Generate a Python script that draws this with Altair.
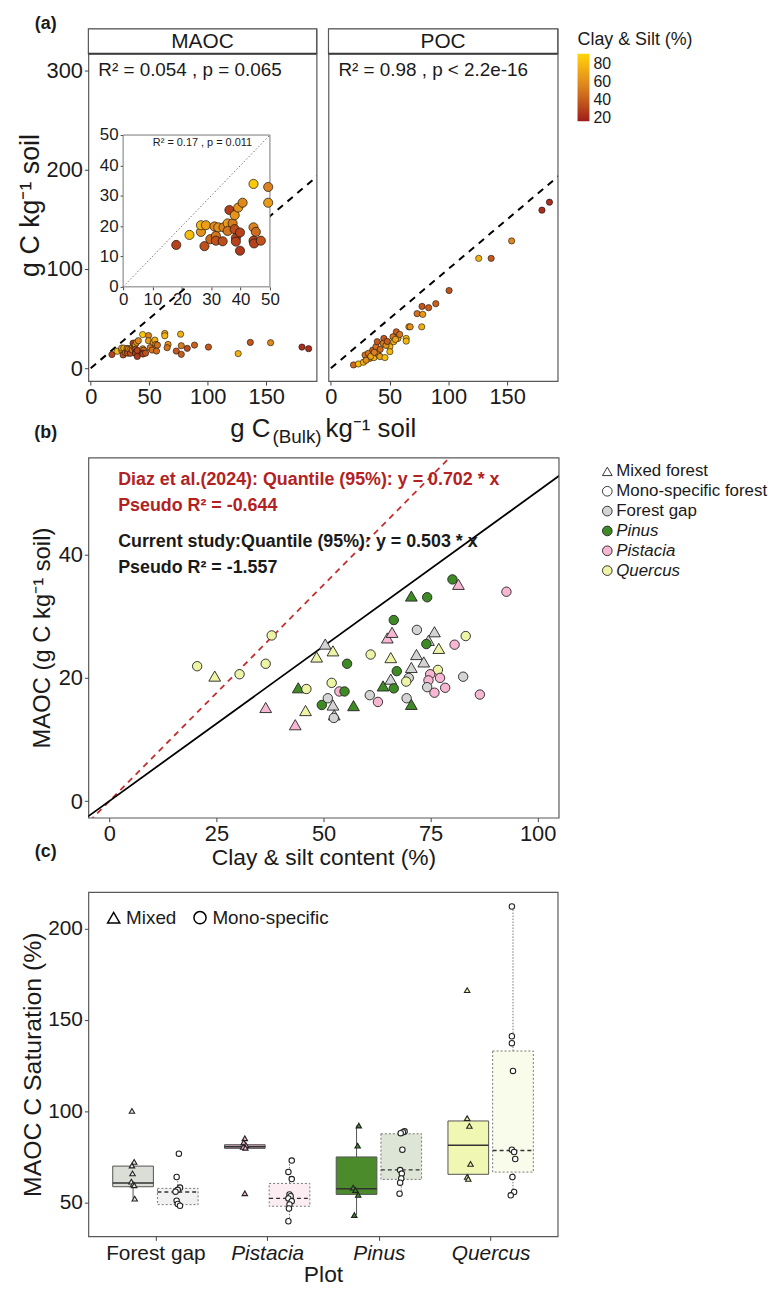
import json
import altair as alt
import pandas as pd

FONT = "Liberation Sans"
INK = "#1a1a1a"
FRAME = "#595959"

# ======================= Panel (a) data =======================
MAOC_BULK = [18.1, 22.6, 26.5, 26.5, 28.2, 27.7, 29.7, 31.1, 31.6, 31.6, 32.4, 33.9, 34.2,
             35.6, 35.6, 36.2, 37.3, 38.0, 38.0, 38.4, 38.4, 39.2, 39.8, 40.7, 39.8, 44.4,
             44.4, 45.2, 44.4, 44.6, 46.9, 49.4, 49.4,
             50.8, 52.5, 53.4, 54.8, 55.7, 56.2, 57.0, 63.3, 63.3, 66.1, 65.3, 73.1, 76.8,
             77.4, 77.4, 82.5, 88.7, 100.6, 126.0, 136.4, 153.7, 180.5, 186.2]
MAOC_C = [13.8, 17.1, 18.1, 20.3, 20.3, 13.4, 15.7, 19.9, 16.8, 15.2, 19.6, 15.0, 19.6,
          20.9, 18.4, 25.3, 20.9, 23.6, 19.0, 16.1, 14.9, 26.1, 17.9, 27.7, 11.9, 33.9,
          19.6, 18.1, 15.2, 14.3, 15.2, 32.9, 27.7,
          20.7, 18.3, 26.0, 28.3, 24.0, 17.3, 23.3, 35.0, 32.7, 24.0, 20.7, 17.3, 34.3,
          22.7, 14.0, 20.0, 23.3, 21.3, 14.7, 26.0, 25.7, 21.3, 19.7]
MAOC_CLAY = [30, 82, 62, 78, 68, 35, 45, 58, 50, 36, 62, 34, 55,
             66, 50, 28, 52, 64, 34, 30, 30, 64, 30, 58, 26, 86,
             56, 46, 30, 30, 36, 55, 66,
             50, 48, 62, 75, 60, 46, 48, 72, 78, 62, 50, 38, 76,
             52, 40, 32, 42, 38, 76, 38, 58, 22, 22]

POC_BULK = [19.3, 23.5, 27.7, 29.1, 31.9, 33.3, 35.6, 36.7, 38.4, 39.5, 40.3, 41.8, 45.1,
            44.5, 46.0, 50.2, 50.2, 52.9, 53.5, 55.7, 57.1, 58.6, 64.1, 64.1, 66.4, 67.5,
            73.4, 77.6, 78.2, 77.3, 83.2, 89.3, 100.6, 125.8, 136.4, 153.8, 179.6, 186.0,
            30.0, 34.0, 42.0, 47.0, 55.0, 37.0, 48.0]
POC_C = [3.3, 4.3, 6.0, 13.3, 15.0, 10.0, 18.3, 10.7, 21.7, 26.7, 14.0, 11.7, 30.0,
         25.0, 10.7, 21.7, 16.7, 31.7, 26.7, 36.7, 30.0, 34.0, 30.0, 27.3, 41.7, 41.7,
         55.0, 62.3, 54.3, 41.7, 61.0, 65.0, 78.3, 110.7, 110.7, 128.3, 159.3, 167.3,
         8.0, 12.0, 19.0, 23.0, 29.0, 16.0, 27.0]
POC_CLAY = [45, 80, 78, 48, 50, 52, 40, 80, 48, 38, 52, 68, 38,
            50, 82, 78, 80, 50, 76, 40, 66, 50, 80, 78, 68, 62,
            48, 38, 66, 75, 40, 42, 36, 76, 38, 58, 22, 22,
            60, 70, 45, 60, 72, 55, 40]

ONE_TO_ONE_X = [0, 200]
INSET_RANGE = [0, 50]
INSET_TICKS = [0, 10, 20, 30, 40, 50]
CLAY_TICKS = [20, 40, 60, 80]
A_X_TICKS = [0, 50, 100, 150]
A_Y_TICKS = [0, 100, 200, 300]
R2_MAOC = "R² = 0.054 , p = 0.065"
R2_POC = "R² = 0.98 , p < 2.2e-16"
R2_INSET = "R² = 0.17 , p = 0.011"

# ======================= Panel (b) data =======================
B_MIX_CLAY = [24.6, 36.5, 48.4, 50.4, 52.2, 44.1, 43.4, 45.8, 52.2, 52.5, 57.0, 63.9, 65.7,
              65.7, 64.9, 66.0, 81.5, 70.5, 75.9, 74.5, 76.9, 71.7, 73.4, 70.5, 70.5]
B_MIX_MAOC = [20.3, 15.2, 23.4, 25.5, 24.4, 18.4, 12.4, 14.7, 15.6, 14.0, 15.5, 18.7, 23.3,
              19.8, 26.5, 27.4, 35.2, 33.3, 27.5, 26.1, 24.8, 23.8, 22.6, 21.7, 15.7]
B_MIX_SP = ["Quercus", "Pistacia", "Quercus", "Forest gap", "Quercus", "Pinus", "Pistacia",
            "Quercus", "Forest gap", "Forest gap", "Pinus", "Pinus", "Quercus", "Forest gap",
            "Pistacia", "Pistacia", "Pistacia", "Pinus", "Forest gap", "Forest gap", "Quercus",
            "Forest gap", "Forest gap", "Forest gap", "Pinus"]
B_MONO_CLAY = [20.5, 30.4, 36.5, 37.9, 55.5, 46.0, 49.6, 51.0, 51.9, 53.7, 54.9, 61.0, 60.8,
               62.7, 66.4, 80.1, 74.2, 92.7, 71.8, 74.0, 80.6, 83.2, 67.1, 76.7, 69.9, 69.3,
               74.9, 74.5, 77.2, 74.2, 78.4, 75.9, 82.6, 86.5, 66.4, 69.4, 52.4]
B_MONO_MAOC = [21.9, 20.6, 22.3, 26.9, 22.3, 18.2, 15.6, 16.7, 19.2, 17.8, 17.8, 23.8, 17.2,
               16.1, 29.4, 36.0, 33.1, 34.0, 27.8, 25.5, 25.4, 26.8, 21.1, 21.3, 20.0, 19.4,
               20.6, 19.6, 20.0, 18.5, 18.4, 17.6, 20.2, 17.3, 18.3, 16.7, 13.5]
B_MONO_SP = ["Quercus", "Quercus", "Quercus", "Quercus", "Pinus", "Quercus", "Pinus",
             "Forest gap", "Quercus", "Pistacia", "Pinus", "Quercus", "Forest gap", "Pistacia",
             "Pinus", "Pinus", "Pinus", "Pistacia", "Forest gap", "Pinus", "Pistacia", "Quercus",
             "Pinus", "Quercus", "Forest gap", "Quercus", "Pistacia", "Pistacia", "Pistacia",
             "Forest gap", "Pistacia", "Pistacia", "Forest gap", "Pistacia", "Pinus",
             "Forest gap", "Forest gap"]
SLOPE_CURRENT = 0.503
SLOPE_DIAZ = 0.702
FIT_LINE_X = [-10, 110]
B_X_TICKS = [0, 25, 50, 75, 100]
B_Y_TICKS = [0, 20, 40]
SPECIES = ["Forest gap", "Pinus", "Pistacia", "Quercus"]
SPECIES_COLORS = ["#D4D4D4", "#3E8B25", "#F7B6D1", "#EEF4A6"]
LEG_LABELS = ["Mixed forest", "Mono-specific forest", "Forest gap", "Pinus", "Pistacia", "Quercus"]
LEG_ITALIC = [False, False, False, True, True, True]
NOTE_DIAZ_1 = "Diaz et al.(2024): Quantile (95%): y = 0.702 * x"
NOTE_DIAZ_2 = "Pseudo R² = -0.644"
NOTE_CUR_1 = "Current study:Quantile (95%): y = 0.503 * x"
NOTE_CUR_2 = "Pseudo R² = -1.557"

# ======================= Panel (c) data =======================
PLOTS = ["Forest gap", "Pistacia", "Pinus", "Quercus"]
MIX_PTS = [[100.2, 72.3, 70.3, 66.0, 61.5, 60.0, 59.5, 52.2],
           [85.2, 83.0, 81.5, 80.5, 80.0, 55.1],
           [92.2, 81.2, 58.2, 56.9, 54.2, 43.2],
           [166.3, 96.2, 92.0, 71.2, 64.1, 63.0]]
MIX_JIT = [[-0.01, 0.01, -0.01, -0.005, -0.015, 0.0, 0.01, 0.015],
           [0.0, -0.01, 0.01, -0.015, 0.005, 0.0],
           [0.02, 0.01, -0.03, -0.01, 0.015, -0.02],
           [-0.01, -0.01, 0.01, 0.02, -0.01, 0.0]]
MONO_PTS = [[76.8, 64.0, 58.2, 57.0, 56.0, 51.0, 49.3, 48.3],
            [73.0, 66.8, 62.9, 54.5, 53.5, 52.3, 50.8, 49.0, 46.8, 39.8],
            [89.0, 88.5, 88.0, 79.0, 67.8, 65.9, 63.2, 60.9, 54.9],
            [212.1, 141.1, 137.3, 122.1, 79.0, 77.7, 73.9, 64.0, 55.8, 54.0]]
MONO_JIT = [[0.01, -0.01, 0.02, 0.0, -0.02, -0.01, 0.0, 0.02],
            [0.02, -0.01, 0.02, 0.0, 0.01, -0.01, 0.02, 0.0, -0.005, -0.01],
            [0.03, 0.015, -0.005, 0.01, -0.01, 0.005, 0.0, -0.01, -0.015],
            [-0.01, -0.01, -0.01, 0.0, -0.01, 0.01, 0.02, -0.005, 0.01, -0.02]]
MIX_LO = [52.2, 79.7, 43.2, 63.0]
MIX_Q1 = [58.7, 79.7, 54.5, 65.5]
MIX_MED = [60.7, 80.6, 57.6, 81.4]
MIX_Q3 = [70.0, 81.7, 75.0, 94.7]
MIX_HI = [72.3, 85.2, 92.2, 96.2]
MONO_LO = [48.3, 39.8, 54.9, 54.0]
MONO_Q1 = [48.9, 48.0, 62.7, 66.7]
MONO_MED = [55.8, 52.3, 67.9, 78.5]
MONO_Q3 = [57.8, 60.5, 87.7, 133.0]
MONO_HI = [64.0, 73.0, 89.0, 212.1]
C_Y_TICKS = [50, 100, 150, 200]
BOX_FILLS_MIX = ["#DADED6", "#C9A0B4", "#4B8B2B", "#F0F7B2"]
BOX_FILLS_MONO = ["#F1F1F1", "#FCEDF3", "#DCE5D6", "#FAFCEB"]
DODGE = 0.2
BOX_HALF = 0.182

# ======================= helpers =======================
def ax(**kw):
    d = dict(grid=False, domain=False, ticks=True, tickColor="#444", tickSize=4, labelPadding=2,
             labelColor=INK, labelFont=FONT, titleFont=FONT, titleColor=INK,
             titleFontWeight="normal", labelFlush=False)
    d.update(kw)
    return alt.Axis(**d)


def note(text, x, y, size, color=INK, weight="normal", align="left", baseline="middle",
         style="normal"):
    return alt.Chart(pd.DataFrame({"t": [text]})).mark_text(
        font=FONT, fontSize=size, color=color, fontWeight=weight, align=align,
        baseline=baseline, fontStyle=style
    ).encode(x=alt.value(x), y=alt.value(y), text="t:N")


def extender():
    return alt.Chart(pd.DataFrame({"t": [0]})).mark_rule(opacity=0, strokeOpacity=0).encode(
        x=alt.value(-75), x2=alt.value(-74), y=alt.value(20))


# ======================= Panel (a) =======================
W_A1, W_A2, H_A, STRIP_H = 230, 231, 355, 25
XA = alt.Scale(domain=[-2, 193], nice=False, zero=False)
YA = alt.Scale(domain=[-13, 342], nice=False, zero=False)
CLAY_SCALE = alt.Scale(domain=[16, 54, 92], range=["#9E1B1B", "#D9801F", "#FFD60A"])
CLAY_LEGEND = alt.Legend(title="Clay & Silt (%)", values=CLAY_TICKS, orient="right", offset=16,
                         padding=2, gradientLength=68, gradientThickness=12, labelOverlap=False,
                         labelFontSize=16, labelFont=FONT, labelColor=INK, titleFontSize=18,
                         titleFont=FONT, titleFontWeight="normal", titleColor=INK,
                         labelOffset=4, gradientStrokeWidth=0)

maoc_df = pd.DataFrame({"bulk": MAOC_BULK, "c": MAOC_C, "clay": MAOC_CLAY})
poc_df = pd.DataFrame({"bulk": POC_BULK, "c": POC_C, "clay": POC_CLAY})


def strip(label, w):
    base = alt.Chart(pd.DataFrame({"t": [label]}))
    return [
        base.mark_rect(fill="white", stroke=FRAME, strokeWidth=1.2).encode(
            x=alt.value(0), x2=alt.value(w), y=alt.value(0), y2=alt.value(STRIP_H)),
        base.mark_rule(color="#3a3a3a", strokeWidth=2).encode(
            x=alt.value(0), x2=alt.value(w), y=alt.value(STRIP_H)),
        base.mark_text(font=FONT, fontSize=21, color=INK, baseline="middle").encode(
            x=alt.value(w / 2), y=alt.value(STRIP_H / 2 + 1), text="t:N"),
    ]


def main_layer(df, show_y):
    x = alt.X("bulk:Q", scale=XA, axis=ax(values=A_X_TICKS, labelFontSize=22, title=None))
    if show_y:
        y = alt.Y("c:Q", scale=YA, axis=ax(values=A_Y_TICKS, labelFontSize=22,
                                            title="g C kg⁻¹ soil", titleFontSize=27,
                                            titlePadding=2))
    else:
        y = alt.Y("c:Q", scale=YA, axis=None)
    line = alt.Chart(pd.DataFrame({"bulk": ONE_TO_ONE_X})).transform_calculate(
        c="datum.bulk").mark_line(color="black", strokeDash=[7, 6], strokeWidth=2,
                                  clip=True).encode(x=x, y=y)
    pts = alt.Chart(df).mark_point(filled=True, shape="circle", size=40, stroke="#111",
                                   strokeWidth=0.6, opacity=1).encode(
        x=x, y=y, fill=alt.Fill("clay:Q", scale=CLAY_SCALE, legend=CLAY_LEGEND))
    return alt.layer(line, pts)


IX = alt.Scale(domain=INSET_RANGE, range=[35, 183], nice=False, zero=False)
IY = alt.Scale(domain=INSET_RANGE, range=[260, 107], nice=False, zero=False)
ix = alt.X("bulk:Q", scale=IX, axis=ax(orient="bottom", offset=-(H_A - 260), values=INSET_TICKS,
                                       labelFontSize=17, title=None, tickSize=3))
iy = alt.Y("c:Q", scale=IY, axis=ax(orient="left", offset=-35, values=INSET_TICKS,
                                    labelFontSize=17, title=None, tickSize=3))
inset_frame = alt.Chart(pd.DataFrame({"bulk": [INSET_RANGE[0]], "bulk2": [INSET_RANGE[1]],
                                      "c": [INSET_RANGE[0]], "c2": [INSET_RANGE[1]]})).mark_rect(
    fill="white", stroke="#777", strokeWidth=1).encode(x=ix, x2="bulk2:Q", y=iy, y2="c2:Q")
inset_line = alt.Chart(pd.DataFrame({"bulk": INSET_RANGE})).transform_calculate(
    c="datum.bulk").mark_line(color="#777", strokeDash=[1.5, 2], strokeWidth=1).encode(x=ix, y=iy)
inset_pts = alt.Chart(maoc_df).transform_filter(f"datum.bulk <= {INSET_RANGE[1]}").mark_point(
    filled=True, shape="circle", size=85, stroke="#111", strokeWidth=0.7, opacity=1).encode(
    x=ix, y=iy, fill=alt.Fill("clay:Q", scale=CLAY_SCALE, legend=CLAY_LEGEND))
inset = alt.layer(inset_frame, inset_line, inset_pts)

maoc_panel = alt.layer(
    *strip("MAOC", W_A1),
    main_layer(maoc_df, True),
    inset,
    note(R2_MAOC, 10, 42, 19),
    note(R2_INSET, 115, 115, 11, align="center"),
    note("(a)", -43, -5, 18, weight="bold", align="center"),
    extender(),
).resolve_scale(x="independent", y="independent").properties(width=W_A1, height=H_A)

poc_panel = alt.layer(
    *strip("POC", W_A2),
    main_layer(poc_df, False),
    note(R2_POC, 10, 42, 19),
).properties(width=W_A2, height=H_A)

# shared x-axis title of panel (a) with subscript, drawn under the two facets
a_title = alt.layer(
    note("g C", 143, 27, 26, baseline="alphabetic"),
    note("(Bulk)", 185.5, 33, 19, baseline="alphabetic"),
    note("kg⁻¹ soil", 239, 27, 26, baseline="alphabetic"),
    note("(b)", -43, 23, 18, weight="bold", align="center"),
    extender(),
).properties(width=W_A1 + 5 + W_A2, height=1, view=alt.ViewConfig(stroke="transparent"))

row_a_panels = alt.hconcat(maoc_panel, poc_panel, spacing=5).resolve_scale(fill="shared")
row_a = alt.vconcat(row_a_panels, a_title, spacing=0).resolve_scale(fill="shared")

# ======================= Panel (b) =======================
W_B, H_B = 474, 363
XB = alt.Scale(domain=[-4.9, 104.9], nice=False, zero=False)
YB = alt.Scale(domain=[-2.7, 55.8], nice=False, zero=False)
b_df = pd.DataFrame({
    "clay": B_MIX_CLAY + B_MONO_CLAY,
    "maoc": B_MIX_MAOC + B_MONO_MAOC,
    "forest": ["Mixed"] * len(B_MIX_CLAY) + ["Mono"] * len(B_MONO_CLAY),
    "sp": B_MIX_SP + B_MONO_SP,
})
xb = alt.X("clay:Q", scale=XB, axis=ax(values=B_X_TICKS, labelFontSize=22,
                                       title="Clay & silt content (%)", titleFontSize=23,
                                       titlePadding=2))
yb = alt.Y("maoc:Q", scale=YB, axis=ax(values=B_Y_TICKS, labelFontSize=22,
                                       title="MAOC (g C kg⁻¹ soil)", titleFontSize=24,
                                       titlePadding=4))


def fit_line(slope, color, dash=None):
    props = dict(color=color, strokeWidth=1.8, clip=True)
    if dash:
        props["strokeDash"] = dash
    return alt.Chart(pd.DataFrame({"clay": FIT_LINE_X})).transform_calculate(
        maoc=f"{slope} * datum.clay").mark_line(**props).encode(x=xb, y=yb)


b_pts = alt.Chart(b_df).mark_point(filled=True, stroke="#222", strokeWidth=0.9, opacity=1).encode(
    x=xb, y=yb,
    shape=alt.Shape("forest:N", scale=alt.Scale(domain=["Mixed", "Mono"],
                                                range=["triangle-up", "circle"]), legend=None),
    size=alt.Size("forest:N", scale=alt.Scale(domain=["Mixed", "Mono"], range=[140, 90]),
                  legend=None),
    fill=alt.Fill("sp:N", scale=alt.Scale(domain=SPECIES, range=SPECIES_COLORS), legend=None),
)
RED = "#B22222"
panel_b = alt.layer(
    fit_line(SLOPE_DIAZ, "#C0302E", [6, 5]),
    fit_line(SLOPE_CURRENT, "black"),
    b_pts,
    note(NOTE_DIAZ_1, 30, 23, 18, color=RED, weight="bold"),
    note(NOTE_DIAZ_2, 30, 49, 18, color=RED, weight="bold"),
    note(NOTE_CUR_1, 30, 85, 18, weight="bold"),
    note(NOTE_CUR_2, 30, 111, 18, weight="bold"),
    note("(c)", -43, 398, 18, weight="bold", align="center"),
    extender(),
).properties(width=W_B, height=H_B)

leg_df = pd.DataFrame({"label": LEG_LABELS, "it": LEG_ITALIC})
leg_y = alt.Y("label:N", scale=alt.Scale(type="point", padding=0.7, domain=LEG_LABELS), axis=None)
leg_sym = alt.Chart(leg_df).mark_point(filled=True, size=95, stroke="#222", strokeWidth=0.9,
                                       opacity=1).encode(
    x=alt.value(8), y=leg_y,
    shape=alt.Shape("label:N", scale=alt.Scale(domain=LEG_LABELS,
                                               range=["triangle-up"] + ["circle"] * 5),
                    legend=None),
    fill=alt.Fill("label:N", scale=alt.Scale(domain=LEG_LABELS,
                                             range=["white", "white"] + SPECIES_COLORS),
                  legend=None),
)
leg_txt_n = alt.Chart(leg_df).transform_filter("!datum.it").mark_text(
    font=FONT, fontSize=17, color=INK, align="left", baseline="middle").encode(
    x=alt.value(17), y=leg_y, text="label:N")
leg_txt_i = alt.Chart(leg_df).transform_filter("datum.it").mark_text(
    font=FONT, fontSize=17, color=INK, align="left", baseline="middle", fontStyle="italic").encode(
    x=alt.value(17), y=leg_y, text="label:N")
legend_b = alt.layer(leg_sym, leg_txt_n, leg_txt_i).properties(
    width=165, height=128, view=alt.ViewConfig(stroke="transparent"))

row_b = alt.hconcat(panel_b, legend_b, spacing=39).resolve_scale(
    fill="independent", shape="independent", size="independent")

# ======================= Panel (c) =======================
W_C, H_C = 473, 347
XC = alt.Scale(domain=[0.4, 4.6], nice=False, zero=False)
YC = alt.Scale(domain=[31.5, 220], nice=False, zero=False)

pt_rows, box_rows = [], []
for i, plot in enumerate(PLOTS):
    for typ, vals, jits in (("Mixed", MIX_PTS[i], MIX_JIT[i]),
                            ("Mono-specific", MONO_PTS[i], MONO_JIT[i])):
        for v, j in zip(vals, jits):
            pt_rows.append({"idx": i + 1, "ptype": typ, "sat": v, "jit": j,
                            "fkey": plot if typ == "Mixed" else "open"})
    box_rows.append({"idx": i + 1, "btype": "Mixed", "lo": MIX_LO[i], "q1": MIX_Q1[i],
                     "med": MIX_MED[i], "q3": MIX_Q3[i], "hi": MIX_HI[i],
                     "bkey": plot + " Mixed"})
    box_rows.append({"idx": i + 1, "btype": "Mono-specific", "lo": MONO_LO[i], "q1": MONO_Q1[i],
                     "med": MONO_MED[i], "q3": MONO_Q3[i], "hi": MONO_HI[i],
                     "bkey": plot + " Mono"})
pt_df = pd.DataFrame(pt_rows)
box_df = pd.DataFrame(box_rows)

label_expr = "[''," + ",".join(json.dumps(p) for p in PLOTS) + "][datum.value]"
xc_axis = ax(values=[1, 2, 3, 4], labelExpr=label_expr, labelFontSize=21, title="Plot",
             titleFontSize=23, titlePadding=0,
             labelFontStyle={"condition": {"test": "datum.value == 1", "value": "normal"},
                             "value": "italic"})
yc_axis = ax(values=C_Y_TICKS, labelFontSize=21, title="MAOC C Saturation (%)", titleFontSize=25,
             titlePadding=2)

boxes = alt.Chart(box_df).transform_calculate(
    pos=f"datum.idx + (datum.btype == 'Mixed' ? -{DODGE} : {DODGE})"
).transform_calculate(
    xl=f"datum.pos - {BOX_HALF}", xr=f"datum.pos + {BOX_HALF}"
)
xpos = alt.X("pos:Q", scale=XC, axis=xc_axis)
box_fill = alt.Fill("bkey:N", scale=alt.Scale(
    domain=[p + " Mixed" for p in PLOTS] + [p + " Mono" for p in PLOTS],
    range=BOX_FILLS_MIX + BOX_FILLS_MONO), legend=None)


def by_type(ch, typ):
    return ch.transform_filter(f"datum.btype == '{typ}'")


mix_style = dict(color="#555", strokeWidth=1)
mono_style = dict(color="#777", strokeWidth=1, strokeDash=[1.5, 1.5])
c_layers = []
for typ, st, med_dash, box_dash, box_stroke in (
        ("Mixed", mix_style, None, None, "#555"),
        ("Mono-specific", mono_style, [4, 3], [2, 2], "#777")):
    c_layers.append(by_type(boxes, typ).mark_rule(**st).encode(
        x=xpos, y=alt.Y("lo:Q", scale=YC, axis=yc_axis), y2="q1:Q"))
    c_layers.append(by_type(boxes, typ).mark_rule(**st).encode(
        x=xpos, y=alt.Y("q3:Q", scale=YC, axis=yc_axis), y2="hi:Q"))
    rect_props = dict(stroke=box_stroke, strokeWidth=1)
    if box_dash:
        rect_props["strokeDash"] = box_dash
    c_layers.append(by_type(boxes, typ).mark_rect(**rect_props).encode(
        x=alt.X("xl:Q", scale=XC, axis=xc_axis), x2="xr:Q",
        y=alt.Y("q1:Q", scale=YC, axis=yc_axis), y2="q3:Q", fill=box_fill))
    med_props = dict(color="#333", strokeWidth=1.4)
    if med_dash:
        med_props["strokeDash"] = med_dash
    c_layers.append(by_type(boxes, typ).mark_rule(**med_props).encode(
        x=alt.X("xl:Q", scale=XC, axis=xc_axis), x2="xr:Q",
        y=alt.Y("med:Q", scale=YC, axis=yc_axis)))

c_pts = alt.Chart(pt_df).transform_calculate(
    xp=f"datum.idx + (datum.ptype == 'Mixed' ? -{DODGE} : {DODGE}) + datum.jit"
).mark_point(filled=True, size=30, stroke="#222", strokeWidth=1.1, opacity=1).encode(
    x=alt.X("xp:Q", scale=XC, axis=xc_axis),
    y=alt.Y("sat:Q", scale=YC, axis=yc_axis),
    shape=alt.Shape("ptype:N", scale=alt.Scale(domain=["Mixed", "Mono-specific"],
                                               range=["triangle-up", "circle"]),
                    legend=alt.Legend(title=None, orient="top-left", direction="horizontal",
                                      labelFontSize=19, labelFont=FONT, labelColor=INK,
                                      symbolSize=150, symbolFillColor="white",
                                      symbolStrokeColor="black", symbolStrokeWidth=1.5,
                                      offset=16, columnPadding=14, labelOffset=3)),
    fill=alt.Fill("fkey:N", scale=alt.Scale(domain=PLOTS + ["open"],
                                            range=["#E4E4E4", "#F7B6D1", "#3E8B25", "#EEF4A6",
                                                   "white"]), legend=None),
)
panel_c = alt.layer(*c_layers, c_pts, extender()).resolve_scale(fill="independent").properties(
    width=W_C, height=H_C)

# ======================= assemble =======================
ab = alt.vconcat(row_a, row_b, spacing=9).resolve_scale(
    fill="independent", shape="independent", size="independent")
chart = alt.vconcat(ab, panel_c, spacing=21).resolve_scale(
    fill="independent", shape="independent", size="independent"
).properties(
    padding={"left": 5, "top": 1, "right": 5, "bottom": 0}
).configure_view(stroke=FRAME, strokeWidth=1.2)

chart.save("out.html", embed_options={"renderer": "svg", "actions": False})
